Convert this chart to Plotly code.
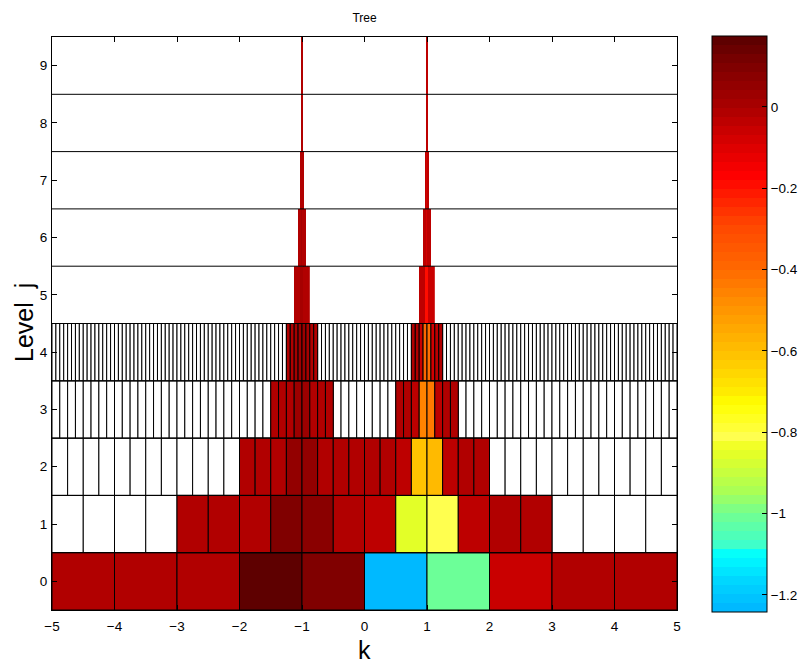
import numpy as np
import plotly.graph_objects as go

# ---------------- data ----------------
# level j has cells of width 2^-j on [-5, 5]; colored cells listed per segment
lev0_start = -5.0
lev0_vals = [-0.015, -0.015, -0.015, 0.17, 0.10, -1.23, -1.0, -0.055, -0.015, -0.015]

lev1_start = -3.0
lev1_vals = [-0.015, -0.015, -0.015, 0.10, 0.075, -0.015, -0.035, -0.86, -0.80,
             -0.035, -0.015, -0.015]

lev2_start = -2.0
lev2_vals = [-0.015, -0.015, -0.015, 0.05, 0.05, -0.015, -0.015, -0.015,
             -0.015, -0.015, -0.035, -0.62, -0.60, -0.035, -0.015, -0.015]

lev3a_start = -1.5
lev3a_vals = [-0.015, -0.015, -0.015, 0.03, 0.02, -0.015, -0.015, -0.015]
lev3b_start = 0.5
lev3b_vals = [-0.015, -0.015, -0.04, -0.45, -0.44, -0.04, -0.015, -0.015]

lev4a_start = -1.25
lev4a_vals = [-0.015, -0.015, 0.0, 0.04, 0.04, 0.0, -0.015, -0.015]
lev4b_start = 0.75
lev4b_vals = [-0.005, -0.015, -0.055, -0.38, -0.42, -0.08, -0.035, -0.015]

lev5a_start = -1.125
lev5a_vals = [-0.015, -0.015, -0.015, 0.0, 0.0, -0.015, -0.015, -0.015]
lev5b_start = 0.875
lev5b_vals = [-0.035, -0.035, -0.04, -0.2, -0.19, -0.055, -0.055, -0.055]

lev6a_start = -1.0625
lev6a_vals = [-0.015, -0.015, -0.015, 0.0, 0.0, -0.015, -0.015, -0.015]
lev6b_start = 0.9375
lev6b_vals = [-0.035, -0.035, -0.035, -0.09, -0.08, -0.035, -0.035, -0.035]

lev7a_start = -1.03125
lev7a_vals = [-0.015, -0.015, -0.015, -0.005, -0.005, -0.015, -0.015, -0.015]
lev7b_start = 0.96875
lev7b_vals = [-0.035, -0.035, -0.035, -0.07, -0.07, -0.035, -0.035, -0.035]

lev8a_start = -1.015625
lev8a_vals = [-0.015] * 8
lev8b_start = 0.984375
lev8b_vals = [-0.035] * 8

lev9a_start = -1.0078125
lev9a_vals = [-0.015] * 8
lev9b_start = 0.9921875
lev9b_vals = [-0.035] * 8

levels = list(range(10))
x_ticks = [-5, -4, -3, -2, -1, 0, 1, 2, 3, 4, 5]
y_ticks = list(range(10))
cbar_ticks = [0, -0.2, -0.4, -0.6, -0.8, -1.0, -1.2]
c_min, c_max = -1.242, 0.174

# colormap stops (value -> colour)
cmap_vals = [-1.242, -1.165, -1.10, -1.08, -1.0, -0.945, -0.835, -0.82, -0.78,
             -0.73, -0.70, -0.60, -0.48, -0.40, -0.29, -0.17, -0.08, 0.0, 0.115, 0.174]
cmap_rgb = [(0, 180, 255), (0, 215, 255), (0, 255, 255), (60, 255, 205), (115, 255, 145),
            (170, 255, 85), (240, 255, 30), (255, 255, 90), (255, 255, 45),
            (255, 255, 0), (255, 235, 0), (255, 190, 0), (255, 142, 0), (255, 105, 0),
            (255, 70, 0), (255, 0, 0), (212, 0, 0), (170, 0, 0), (120, 0, 0), (88, 0, 0)]

segments = {
    0: [(lev0_start, lev0_vals)],
    1: [(lev1_start, lev1_vals)],
    2: [(lev2_start, lev2_vals)],
    3: [(lev3a_start, lev3a_vals), (lev3b_start, lev3b_vals)],
    4: [(lev4a_start, lev4a_vals), (lev4b_start, lev4b_vals)],
    5: [(lev5a_start, lev5a_vals), (lev5b_start, lev5b_vals)],
    6: [(lev6a_start, lev6a_vals), (lev6b_start, lev6b_vals)],
    7: [(lev7a_start, lev7a_vals), (lev7b_start, lev7b_vals)],
    8: [(lev8a_start, lev8a_vals), (lev8b_start, lev8b_vals)],
    9: [(lev9a_start, lev9a_vals), (lev9b_start, lev9b_vals)],
}

# ---------------- stepped colour scale (64 bands) ----------------
cv = np.array(cmap_vals)
cr = np.array(cmap_rgb, dtype=float)
nb = 64
colorscale = []
for i in range(nb):
    vmid = c_min + (i + 0.5) / nb * (c_max - c_min)
    rgb = [int(round(np.interp(vmid, cv, cr[:, k]))) for k in range(3)]
    col = f"rgb({rgb[0]},{rgb[1]},{rgb[2]})"
    colorscale.append([i / nb, col])
    colorscale.append([(i + 1) / nb, col])

fig = go.Figure()
font_family = "Liberation Sans, Arial, Helvetica, sans-serif"

# white (empty) cells with outlines for levels 1..4
for j in levels:
    if j == 0 or j > 4:
        continue
    w = 0.5 ** j
    n = int(round(10 / w))
    colored_idx = set()
    for s, vals in segments[j]:
        i0 = int(round((s + 5) / w))
        colored_idx.update(range(i0, i0 + len(vals)))
    xs = [-5 + w * (i + 0.5) for i in range(n) if i not in colored_idx]
    fig.add_trace(go.Bar(
        x=xs, y=[1] * len(xs), base=j - 0.5, width=w,
        marker=dict(color="white", line=dict(color="black", width=1)),
        showlegend=False, hoverinfo="skip"))

# coloured cells
for j in levels:
    w = 0.5 ** j
    xs, vs = [], []
    for s, vals in segments[j]:
        for i, v in enumerate(vals):
            xs.append(s + w * (i + 0.5))
            vs.append(v)
    fig.add_trace(go.Bar(
        x=xs, y=[1] * len(xs), base=j - 0.5, width=w,
        marker=dict(color=vs, coloraxis="coloraxis",
                    line=dict(color="black", width=1 if j <= 4 else 0)),
        showlegend=False, hoverinfo="skip"))

# horizontal level separators
hx, hy = [], []
for j in levels[:-1]:
    hx += [-5, 5, None]
    hy += [j + 0.5, j + 0.5, None]
fig.add_trace(go.Scatter(x=hx, y=hy, mode="lines",
                         line=dict(color="black", width=1),
                         showlegend=False, hoverinfo="skip"))

# page body adds an 8px offset; figure coordinates are screen - 8
W, H = 798, 655
L, T = 44, 29
plot_w, plot_h = 625, 573
tick_font = dict(size=13.5, family=font_family)
fig.update_layout(
    width=W, height=H,
    margin=dict(l=L, r=W - L - plot_w, t=T, b=H - T - plot_h, autoexpand=False),
    paper_bgcolor="white", plot_bgcolor="white",
    barmode="overlay",
    font=dict(family=font_family, size=13, color="black"),
    title=dict(text="Tree", x=0.5, xref="paper", y=1 - 10 / H, yref="container",
               xanchor="center", yanchor="middle", font=dict(size=12)),
    coloraxis=dict(
        cmin=c_min, cmax=c_max, colorscale=colorscale,
        colorbar=dict(
            x=(712 - 52) / plot_w, xanchor="left", xpad=0, ypad=0,
            y=(610 - 324) / plot_h, yanchor="middle", len=576, lenmode="pixels",
            thickness=55, thicknessmode="pixels",
            outlinecolor="black", outlinewidth=1,
            tickvals=cbar_ticks, ticks="inside", ticklen=5, tickcolor="black",
            tickfont=tick_font),
    ),
    xaxis=dict(range=[-5, 5], tickvals=x_ticks, ticks="inside", ticklen=5,
               tickcolor="black", showline=True, linecolor="black", linewidth=1,
               mirror="ticks", showgrid=False, zeroline=False, automargin=False,
               ticklabelstandoff=4, tickfont=tick_font),
    yaxis=dict(range=[-0.5, 9.5], tickvals=y_ticks, ticks="inside", ticklen=5,
               tickcolor="black", showline=True, linecolor="black", linewidth=1,
               mirror="ticks", showgrid=False, zeroline=False, automargin=False,
               ticklabelstandoff=1, tickfont=tick_font),
    annotations=[
        dict(text="k", x=0.5, xref="paper", y=(610 - 650) / plot_h, yref="paper",
             xanchor="center", yanchor="middle", showarrow=False,
             font=dict(size=25)),
        dict(text="Level\u00a0\u00a0j", x=(24 - 52) / plot_w, xref="paper",
             y=(610 - 323) / plot_h, yref="paper", textangle=-90,
             xanchor="center", yanchor="middle", showarrow=False,
             font=dict(size=25)),
    ],
)

fig.write_html("out.html")
